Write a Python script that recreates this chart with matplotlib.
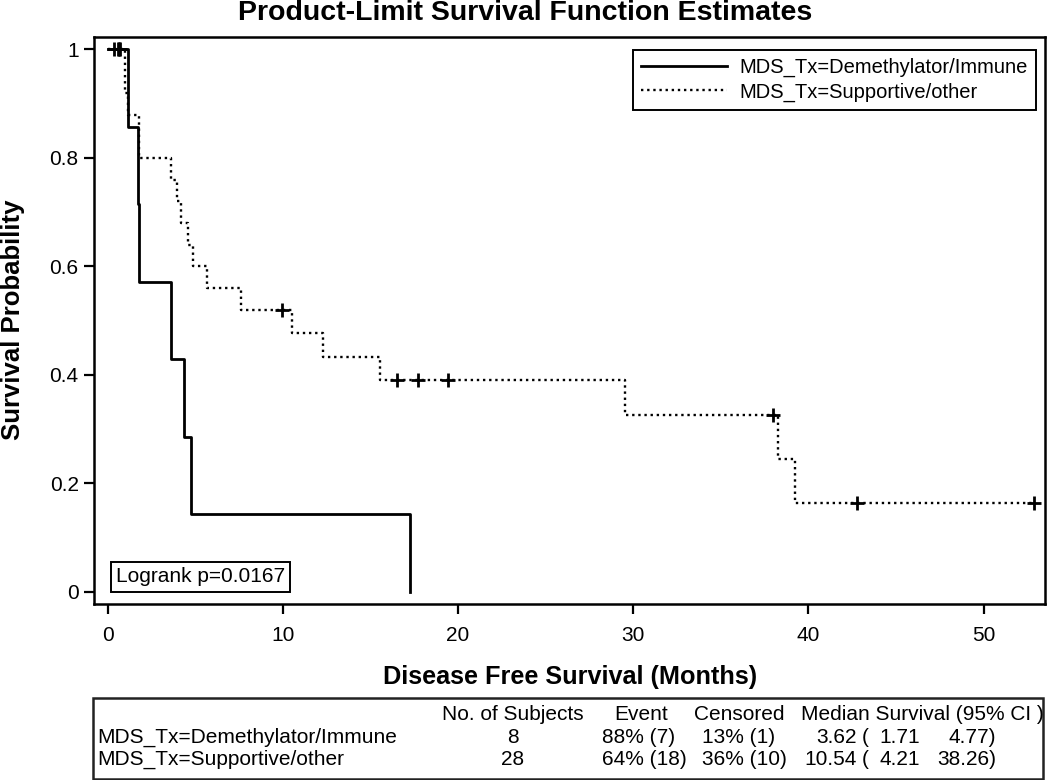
import matplotlib
matplotlib.use("Agg")
import matplotlib.pyplot as plt
from matplotlib.lines import Line2D
from matplotlib.patches import Rectangle

plt.rcParams['font.family'] = ['Liberation Sans', 'DejaVu Sans']

# Kaplan-Meier steps
demeth_time = [0, 1.17, 1.71, 1.78, 3.62, 4.36, 4.77, 17.25]
demeth_surv = [1.0, 0.857, 0.714, 0.571, 0.429, 0.286, 0.143, 0.0]
demeth_cens_time = [0.6]
demeth_cens_surv = [1.0]

supp_time = [0, 0.99, 1.15, 1.78, 3.62, 3.94, 4.21, 4.60, 4.89, 5.65, 7.61,
             10.54, 12.31, 15.54, 29.53, 38.26, 39.23, 52.87]
supp_surv = [1.0, 0.92, 0.88, 0.80, 0.76, 0.72, 0.68, 0.64, 0.60, 0.56, 0.52,
             0.477, 0.433, 0.39, 0.325, 0.244, 0.163, 0.163]
supp_cens_time = [0.35, 0.65, 0.7, 9.93, 16.5, 17.73, 19.44, 37.97, 42.79, 52.87]
supp_cens_surv = [1.0, 1.0, 1.0, 0.52, 0.39, 0.39, 0.39, 0.325, 0.163, 0.163]

group_labels = ["MDS_Tx=Demethylator/Immune", "MDS_Tx=Supportive/other"]
x_ticks = [0, 10, 20, 30, 40, 50]
y_ticks = [0, 0.2, 0.4, 0.6, 0.8, 1.0]
y_tick_labels = ["0", "0.2", "0.4", "0.6", "0.8", "1"]

# summary table
table_header = ["No. of Subjects", "Event", "Censored", "Median Survival (95% CI )"]
n_subjects = ["8", "28"]
events = ["88% (7)", "64% (18)"]
censored = ["13% (1)", "36% (10)"]
median = ["3.62", "10.54"]
ci_low = ["1.71", "4.21"]
ci_high = ["4.77)", "38.26)"]

fig = plt.figure(figsize=(10.5, 7.8), dpi=100)
W, H = 1050.0, 780.0
ax = fig.add_axes([94 / W, 1 - 604 / H, (1045 - 94) / W, (604 - 37) / H])

dotted = (0, (1, 1.6))
ax.step(demeth_time, demeth_surv, where="post", color="black", lw=2.0)
ax.step(supp_time, supp_surv, where="post", color="black", lw=1.7, linestyle=dotted)
ax.plot(demeth_cens_time, demeth_cens_surv, "+", color="black", ms=10, mew=2.0)
ax.plot(supp_cens_time, supp_cens_surv, "+", color="black", ms=10, mew=2.0)

ax.set_xlim(-0.78, 53.5)
ax.set_ylim(-0.023, 1.023)
ax.set_xticks(x_ticks)
ax.set_yticks(y_ticks)
ax.set_yticklabels(y_tick_labels)
ax.tick_params(axis="both", labelsize=15, length=7, width=1.6, color="black")
ax.tick_params(axis="x", pad=9)
ax.tick_params(axis="y", pad=4)
for sp in ax.spines.values():
    sp.set_linewidth(1.8)

handles = [Line2D([], [], color="black", lw=2.0),
           Line2D([], [], color="black", lw=1.7, linestyle=dotted)]
leg = ax.legend(handles, group_labels, loc="upper right",
                bbox_to_anchor=(0.9905, 0.977), borderaxespad=0,
                fontsize=14.5, handlelength=4.3, handletextpad=0.6,
                fancybox=False, framealpha=1, edgecolor="black",
                borderpad=0.4, labelspacing=0.25)
leg.get_frame().set_linewidth(1.4)

ax.text((116 - 94) / 951, (604 - 577) / 567, "Logrank p=0.0167", fontsize=15,
        transform=ax.transAxes, va="center", ha="left",
        bbox=dict(boxstyle="square,pad=0.25", fc="white", ec="black", lw=1.4))

fig.text(0.5, 1 - 13 / H, "Product-Limit Survival Function Estimates",
         fontsize=20.5, fontweight="bold", ha="center", va="center")
fig.text(13 / W, 1 - 320 / H, "Survival Probability", rotation=90,
         fontsize=18.5, fontweight="bold", ha="center", va="center")
fig.text(570 / W, 1 - 677 / H, "Disease Free Survival (Months)",
         fontsize=18.2, fontweight="bold", ha="center", va="center")

# table below the chart
fig.patches.append(Rectangle((93 / W, 1 / H), (1043 - 93) / W, (779 - 698) / H,
                             transform=fig.transFigure, fill=False,
                             ec="#222222", lw=1.8))
hy = 1 - 714.5 / H
fs = 15
fig.text(513 / W, hy, table_header[0], ha="center", va="center", fontsize=fs)
fig.text(641 / W, hy, table_header[1], ha="center", va="center", fontsize=fs)
fig.text(739 / W, hy, table_header[2], ha="center", va="center", fontsize=fs)
fig.text(922 / W, hy, table_header[3], ha="center", va="center", fontsize=fs)
for i, ry in enumerate([737.5, 759.5]):
    y = 1 - ry / H
    fig.text(97 / W, y, group_labels[i], ha="left", va="center", fontsize=fs)
    fig.text(513 / W, y, n_subjects[i], ha="center", va="center", fontsize=fs)
    fig.text(602 / W, y, events[i], ha="left", va="center", fontsize=fs)
    fig.text(702 / W, y, censored[i], ha="left", va="center", fontsize=fs)
    fig.text(857 / W, y, median[i], ha="right", va="center", fontsize=fs)
    fig.text(862 / W, y, "(", ha="left", va="center", fontsize=fs)
    fig.text(920 / W, y, ci_low[i], ha="right", va="center", fontsize=fs)
    fig.text(996 / W, y, ci_high[i], ha="right", va="center", fontsize=fs)

fig.savefig("out.png", dpi=100)
